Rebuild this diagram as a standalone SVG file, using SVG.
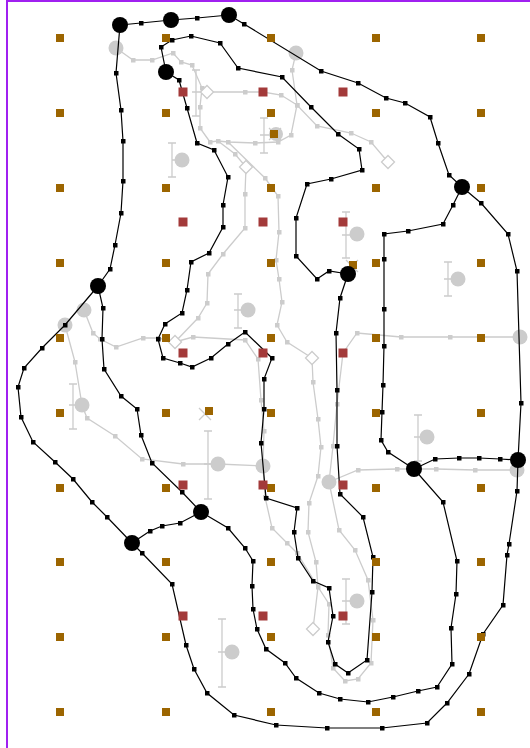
<svg xmlns="http://www.w3.org/2000/svg" width="530" height="748" viewBox="0 0 530 748">
<style>
.bl{fill:none;stroke:#000;stroke-width:1.2;marker-mid:url(#bs)}
.gl{fill:none;stroke:#cccccc;stroke-width:1.3;marker-mid:url(#gs)}
.ib{fill:none;stroke:#cccccc;stroke-width:1.3}
.gc{fill:#cccccc}
.bc{fill:#000}
.dm{fill:#fff;stroke:#cccccc;stroke-width:1.3}
.br{fill:#9c6500}
.rd{fill:#a33a3a}
</style>
<defs>
<marker id="bs" markerWidth="5" markerHeight="5" refX="2.5" refY="2.5" markerUnits="userSpaceOnUse"><rect width="5" height="5" fill="#000"/></marker>
<marker id="gs" markerWidth="5" markerHeight="5" refX="2.5" refY="2.5" markerUnits="userSpaceOnUse"><rect width="5" height="5" fill="#cccccc"/></marker>
<rect id="b" x="-4" y="-4" width="8" height="8" class="br"/>
<rect id="r" x="-4.5" y="-4.5" width="9" height="9" class="rd"/>
<path id="d" d="M0,-6.5 L6.5,0 L0,6.5 L-6.5,0Z" class="dm"/>
</defs>
<rect x="7" y="1" width="620" height="820" fill="#fff" stroke="#a020f0" stroke-width="2"/>

<g id="errorbars" class="ib">
<path d="M192,70h8M196,70v46M192,116h8M192,92h13"/>
<path d="M168,143h8M172,143v34M168,177h8M172,160h10"/>
<path d="M260,118h8M264,118v35M260,153h8M260,135h16"/>
<path d="M342,212h8M346,212v46M342,258h8M342,235h15"/>
<path d="M444,262h8M448,262v34M444,296h8M444,279h14"/>
<path d="M234,294h8M238,294v34M234,328h8M234,310h14"/>
<path d="M69,384h8M73,384v45M69,429h8M69,405h13"/>
<path d="M414,415h8M418,415v46M414,461h8M414,437h13"/>
<path d="M204,431h8M208,431v68M204,499h8M204,464h14"/>
<path d="M342,579h8M346,579v45M342,624h8M342,601h15"/>
<path d="M218,619h8M222,619v68M218,687h8M218,652h14"/>
<path d="M269,128l12,12M281,128l-12,12"/>
<path d="M199,408l12,12M211,408l-12,12"/>
<path d="M346,260l12,12M358,260l-12,12"/>
</g>

<g id="gray-connectors">
<polyline class="gl" points="116,48 133,60 152,60 173,53 181,62 192,65 202,88 200,107 200,128 210,142 218,141 228,142 255,143 278,142 291,135 297,105 292,70 296,53"/>
<polyline class="gl" points="207,92 245,92 263,92 281,95 297,105 317,126 351,133 371,142 388,162"/>
<polyline class="gl" points="218,141 235,154 246,167 245,194 245,228 223,254 208,274 207,303 198,318 175,342"/>
<polyline class="gl" points="228,142 265,178 278,196 279,232 276,260 279,279 282,302 277,325 287,342 312,358"/>
<polyline class="gl" points="84,310 93,333 100,339 116,347 143,338 158,338 175,342 193,337 245,340 258,359 261,400 264,431 263,466"/>
<polyline class="gl" points="65,325 75,362 82,405 87,418 115,436 142,459 183,464 218,464 263,466"/>
<polyline class="gl" points="520,337 450,337 401,337 357,333 343,353 337,404 333,446 329,482"/>
<polyline class="gl" points="329,482 358,470 397,469 436,469 475,470 517,470"/>
<polyline class="gl" points="312,358 313,382 318,419 321,447 318,476 309,503 308,532 316,562 318,587 313,629"/>
<polyline class="gl" points="263,466 265,497 272,528 287,543 297,553 318,587"/>
<polyline class="gl" points="329,482 339,530 355,550 368,580 373,620 371,663 358,679 345,681 333,668 328,635 329,604 318,587"/>
</g>

<g id="diamonds">
<use href="#d" x="207" y="92"/><use href="#d" x="246" y="167"/><use href="#d" x="388" y="162"/>
<use href="#d" x="175" y="342"/><use href="#d" x="312" y="358"/><use href="#d" x="313" y="629"/>
</g>

<g id="gray-nodes" class="gc">
<circle id="g1" cx="116" cy="48" r="7.5"/><circle id="g2" cx="296" cy="53" r="7.5"/>
<circle id="g3" cx="182" cy="160" r="7.5"/><circle id="g4" cx="276" cy="134" r="7"/>
<circle id="g5" cx="357" cy="234" r="7.5"/><circle id="g6" cx="458" cy="279" r="7.5"/>
<circle id="g7" cx="248" cy="310" r="7.5"/><circle id="g8" cx="84" cy="310" r="7.5"/>
<circle id="g9" cx="65" cy="325" r="7.5"/><circle id="g10" cx="520" cy="337" r="7.5"/>
<circle id="g11" cx="82" cy="405" r="7.5"/><circle id="g12" cx="427" cy="437" r="7.5"/>
<circle id="g13" cx="218" cy="464" r="7.5"/><circle id="g14" cx="263" cy="466" r="7.5"/>
<circle id="g15" cx="329" cy="482" r="7.5"/><circle id="g16" cx="517" cy="470" r="7.5"/>
<circle id="g17" cx="357" cy="601" r="7.5"/><circle id="g18" cx="232" cy="652" r="7.5"/>
</g>

<g id="connectors">
<polyline class="bl" points="120,25 141,23 171,20 197,18 229,15 244,24 321,71 358,83 386,98 405,103 430,117 438,143 449,175 462,187"/>
<polyline class="bl" points="120,25 116,73 121,110 123,141 123,181 121,213 115,245 110,269 98,286"/>
<polyline class="bl" points="98,286 65,325 42,348 24,368 18,387 21,417 33,442 55,462 73,479 92,502 107,517 132,543"/>
<polyline class="bl" points="98,286 103,308 102,339 104,369 121,396 137,409 141,435 152,463 182,492 201,512"/>
<polyline class="bl" points="132,543 150,531 162,526 180,523 201,512"/>
<polyline class="bl" points="132,543 142,553 172,584 186,645 194,669 207,693 234,715 276,725 327,728 382,728 427,723 447,703 469,674 483,634 503,605 507,555 509,544 517,491 518,460"/>
<polyline class="bl" points="201,512 228,528 245,548 253,561 252,586 253,609 257,629 266,649 285,663 296,678 319,693 340,699 368,702 393,697 418,691 437,687 452,664 451,628 456,594 457,561 443,502 414,469"/>
<polyline class="bl" points="414,469 435,459 459,458 479,458 500,459 518,460"/>
<polyline class="bl" points="414,469 388,452 381,440 382,412 383,385 384,346 384,309 384,259 384,234 408,231 443,224 453,205 462,187"/>
<polyline class="bl" points="462,187 481,203 508,234 517,271 521,403 518,460"/>
<polyline class="bl" points="166,72 161,47 172,40 191,36 220,43 238,68 282,77 311,107 338,134 359,149 362,170 331,179 307,184 296,218 296,256 317,279 329,271 348,274"/>
<polyline class="bl" points="166,72 179,80 187,108 197,143 214,150 228,177 223,205 223,227 209,253 191,262 187,290 182,313 165,324 158,339 163,358 180,363 192,367 211,358 228,344 245,332 272,358 264,379 264,409 261,443 266,498 297,508 294,532 298,558 313,581 329,588 333,616 328,642 335,664 348,673 367,660 372,592 373,557 363,517 340,494 337,446 337,390 336,333 340,298 348,274"/>
</g>

<g id="grid">
<use href="#b" x="60" y="38"/><use href="#b" x="166" y="38"/><use href="#b" x="271" y="38"/><use href="#b" x="376" y="38"/><use href="#b" x="481" y="38"/>
<use href="#b" x="60" y="113"/><use href="#b" x="166" y="113"/><use href="#b" x="271" y="113"/><use href="#b" x="376" y="113"/><use href="#b" x="481" y="113"/>
<use href="#b" x="60" y="188"/><use href="#b" x="166" y="188"/><use href="#b" x="271" y="188"/><use href="#b" x="376" y="188"/><use href="#b" x="481" y="188"/>
<use href="#b" x="60" y="263"/><use href="#b" x="166" y="263"/><use href="#b" x="271" y="263"/><use href="#b" x="376" y="263"/><use href="#b" x="481" y="263"/>
<use href="#b" x="60" y="338"/><use href="#b" x="166" y="338"/><use href="#b" x="271" y="338"/><use href="#b" x="376" y="338"/><use href="#b" x="481" y="338"/>
<use href="#b" x="60" y="413"/><use href="#b" x="166" y="413"/><use href="#b" x="271" y="413"/><use href="#b" x="376" y="413"/><use href="#b" x="481" y="413"/>
<use href="#b" x="60" y="488"/><use href="#b" x="166" y="488"/><use href="#b" x="271" y="488"/><use href="#b" x="376" y="488"/><use href="#b" x="481" y="488"/>
<use href="#b" x="60" y="562"/><use href="#b" x="166" y="562"/><use href="#b" x="271" y="562"/><use href="#b" x="376" y="562"/><use href="#b" x="481" y="562"/>
<use href="#b" x="60" y="637"/><use href="#b" x="166" y="637"/><use href="#b" x="271" y="637"/><use href="#b" x="376" y="637"/><use href="#b" x="481" y="637"/>
<use href="#b" x="60" y="712"/><use href="#b" x="166" y="712"/><use href="#b" x="271" y="712"/><use href="#b" x="376" y="712"/><use href="#b" x="481" y="712"/>
<use href="#b" x="274" y="134"/><use href="#b" x="209" y="411"/><use href="#b" x="353" y="265"/>
<use href="#r" x="183" y="92"/><use href="#r" x="263" y="92"/><use href="#r" x="343" y="92"/>
<use href="#r" x="183" y="222"/><use href="#r" x="263" y="222"/><use href="#r" x="343" y="222"/>
<use href="#r" x="183" y="353"/><use href="#r" x="263" y="353"/><use href="#r" x="343" y="353"/>
<use href="#r" x="183" y="485"/><use href="#r" x="263" y="485"/><use href="#r" x="343" y="485"/>
<use href="#r" x="183" y="616"/><use href="#r" x="263" y="616"/><use href="#r" x="343" y="616"/>
</g>

<g id="nodes" class="bc">
<g id="n1"><circle cx="120" cy="25" r="8"/></g>
<g id="n2"><circle cx="171" cy="20" r="8"/></g>
<g id="n3"><circle cx="229" cy="15" r="8"/></g>
<g id="n4"><circle cx="166" cy="72" r="8"/></g>
<g id="n5"><circle cx="462" cy="187" r="8"/></g>
<g id="n6"><circle cx="348" cy="274" r="8"/></g>
<g id="n7"><circle cx="98" cy="286" r="8"/></g>
<g id="n8"><circle cx="414" cy="469" r="8"/></g>
<g id="n9"><circle cx="518" cy="460" r="8"/></g>
<g id="n10"><circle cx="201" cy="512" r="8"/></g>
<g id="n11"><circle cx="132" cy="543" r="8"/></g>
</g>
</svg>
